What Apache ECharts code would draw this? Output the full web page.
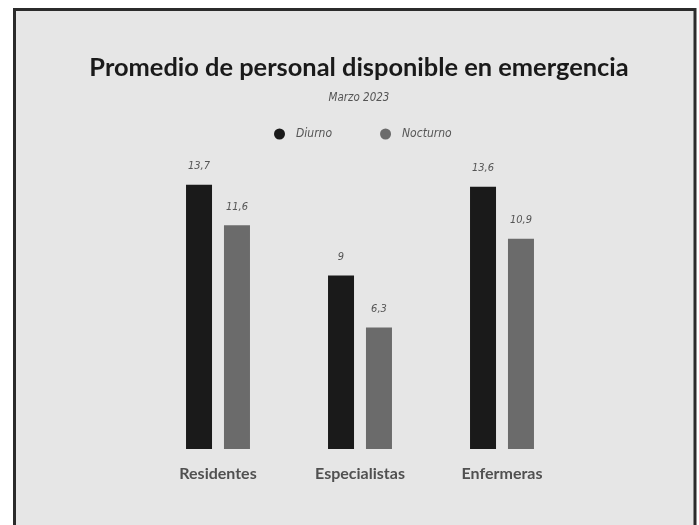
<!DOCTYPE html>
<html>
<head>
<meta charset="utf-8">
<script src="https://cdn.jsdelivr.net/npm/echarts@6/dist/echarts.min.js"></script>
<style>
html,body{margin:0;padding:0;background:#ffffff;}
#chart{width:699px;height:525px;}
</style>
</head>
<body>
<div id="chart"></div>
<script>
var categories = ['Residentes', 'Especialistas', 'Enfermeras'];
var seriesNames = ['Diurno', 'Nocturno'];
var diurno = [13.7, 9, 13.6];
var nocturno = [11.6, 6.3, 10.9];

var condensed = '"Liberation Sans Narrow", "DejaVu Sans Condensed", "Roboto", sans-serif';
function fmt(p){ return String(p.value).replace('.', ','); }

var chart = echarts.init(document.getElementById('chart'), null, {renderer:'canvas'});
chart.setOption({
  backgroundColor: '#ffffff',
  animation: false,
  graphic: [{
    type: 'rect', z: -10, silent: true,
    shape: {x: 14.5, y: 9.5, width: 680.5, height: 600},
    style: {fill: '#e6e6e6', stroke: '#2b2b2b', lineWidth: 3}
  }],
  title: {
    text: 'Promedio de personal disponible en emergencia',
    subtext: 'Marzo 2023',
    left: 354, textAlign: 'center', top: 50,
    itemGap: 12,
    textStyle: {fontFamily: 'Lato', fontWeight: 'bold', fontSize: 25.4, color: '#1a1a1a'},
    subtextStyle: {fontFamily: condensed, fontStyle: 'italic', fontSize: 11.5, color: '#555555'}
  },
  legend: {
    data: seriesNames,
    top: 123, left: 269,
    icon: 'circle', itemWidth: 11, itemHeight: 11, itemGap: 48,
    textStyle: {fontFamily: condensed, fontStyle: 'italic', fontSize: 12, color: '#555555', padding: [0,0,0,6]}
  },
  grid: {left: 147, right: 126, top: 179, bottom: 76},
  xAxis: {
    type: 'category', data: categories,
    axisLine: {show: false}, axisTick: {show: false},
    axisLabel: {margin: 17, fontFamily: 'Lato', fontWeight: 'bold', fontSize: 16, color: '#505050'}
  },
  yAxis: {
    type: 'value', min: 0, max: 14, show: false, splitLine: {show: false}
  },
  series: [{
    name: 'Diurno', type: 'bar', data: diurno,
    barWidth: 26, barGap: '46%',
    itemStyle: {color: '#1a1a1a'},
    label: {show: true, position: 'top', distance: 13, formatter: fmt,
      fontFamily: condensed, fontStyle: 'italic', fontSize: 11, color: '#555555'}
  }, {
    name: 'Nocturno', type: 'bar', data: nocturno,
    barWidth: 26,
    itemStyle: {color: '#6b6b6b'},
    label: {show: true, position: 'top', distance: 13, formatter: fmt,
      fontFamily: condensed, fontStyle: 'italic', fontSize: 11, color: '#555555'}
  }]
});
</script>
</body>
</html>
